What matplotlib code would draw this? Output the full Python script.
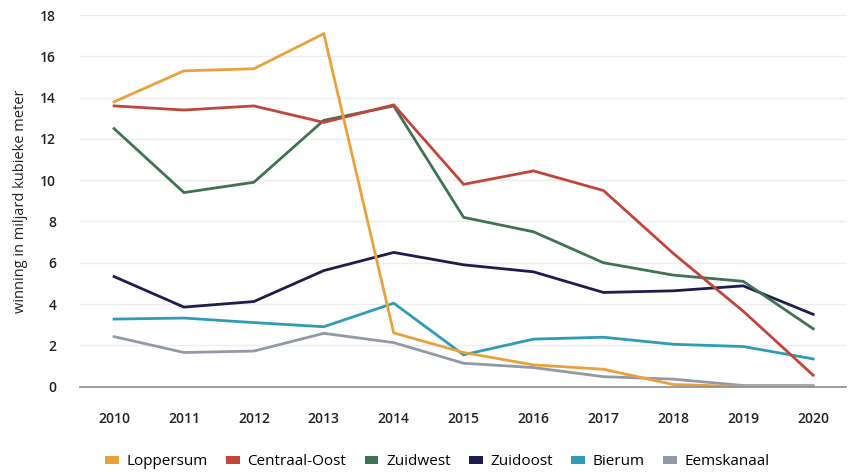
import matplotlib
matplotlib.use("Agg")
import matplotlib.pyplot as plt
from matplotlib.patches import Patch

plt.rcParams['font.family'] = ['Open Sans', 'DejaVu Sans']

years = ['2010', '2011', '2012', '2013', '2014', '2015', '2016', '2017', '2018', '2019', '2020']

loppersum = [13.8, 15.3, 15.4, 17.1, 2.6, 1.65, 1.05, 0.84, 0.1, 0.0, 0.0]
centraal_oost = [13.6, 13.4, 13.6, 12.8, 13.65, 9.8, 10.45, 9.5, 6.45, 3.65, 0.55]
zuidwest = [12.5, 9.4, 9.9, 12.9, 13.6, 8.2, 7.5, 6.0, 5.4, 5.1, 2.8]
zuidoost = [5.33, 3.85, 4.12, 5.62, 6.5, 5.9, 5.56, 4.56, 4.64, 4.88, 3.5]
bierum = [3.27, 3.32, 3.1, 2.9, 4.04, 1.54, 2.3, 2.39, 2.05, 1.94, 1.34]
eemskanaal = [2.42, 1.65, 1.72, 2.58, 2.13, 1.13, 0.92, 0.48, 0.36, 0.05, 0.05]

names = ['Loppersum', 'Centraal-Oost', 'Zuidwest', 'Zuidoost', 'Bierum', 'Eemskanaal']
series = [loppersum, centraal_oost, zuidwest, zuidoost, bierum, eemskanaal]
colors = ['#E9A23B', '#C2453B', '#3F7352', '#1E1C4C', '#2F9CB6', '#9299A6']


def plot_winning():
    fig = plt.figure(figsize=(8.49, 4.72), dpi=100)
    ax = fig.add_axes([0.094, 0.181, 0.9025, 0.787])

    x = list(range(len(years)))
    # draw in reverse so Loppersum ends on top like the original
    for vals, col in reversed(list(zip(series, colors))):
        ax.plot(x, vals, color=col, linewidth=2.0, solid_joinstyle='miter')

    ax.set_xlim(-0.49, 10.47)
    ax.set_ylim(0, 18)
    ax.set_yticks(range(0, 19, 2))
    ax.set_xticks(x)
    ax.set_xticklabels(years)

    for s in ['top', 'right', 'left']:
        ax.spines[s].set_visible(False)
    ax.spines['bottom'].set_color('#8c8c8c')
    ax.spines['bottom'].set_linewidth(1.2)

    ax.yaxis.grid(color='#ededed', linewidth=1.0)
    ax.set_axisbelow(True)
    ax.tick_params(axis='both', length=0, labelsize=10, labelcolor='#222222')
    ax.tick_params(axis='y', pad=17)
    ax.tick_params(axis='x', pad=18)
    for lab in ax.get_xticklabels() + ax.get_yticklabels():
        lab.set_fontweight('semibold')

    ax.set_ylabel('winning in miljard kubieke meter', fontsize=10.5, color='#222222', labelpad=9)

    handles = [Patch(facecolor=c, edgecolor='none') for c in colors]
    fig.legend(handles, names, loc='center', bbox_to_anchor=(0.515, 0.022), ncol=6,
               frameon=False, fontsize=11, handlelength=0.9, handleheight=0.45,
               handletextpad=0.5, columnspacing=1.2)

    fig.savefig('out.png', dpi=100)


if __name__ == '__main__':
    plot_winning()
